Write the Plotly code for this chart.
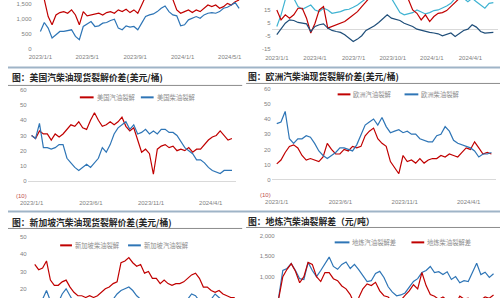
import pandas as pd
import plotly.graph_objects as go

# ---------------- data ----------------
dates = pd.date_range("2023-01-01", periods=52, freq="10D")

# top-left panel (cut off): two series, yuan/ton
topleft_red = [1700, 1650, 1077, 800, 1130, 1210, 1243, 1188, 1300, 1130,
               800, 1243, 1100, 1130, 1165, 1188, 1130, 1210, 1243, 1188,
               1300, 1243, 1320, 1210, 1300, 1188, 1465, 1750, 1800, 1750,
               1800, 1780, 1750, 1700, 1650, 1300, 1188, 1243, 1300, 1210,
               1300, 1243, 1355, 1465, 1410, 1465, 1355, 1410, 1520, 1465,
               1576, 1630]
topleft_blue = [577, 877, 688, 355, 466, 577, 577, 610, 633, 411,
                300, 744, 833, 910, 744, 766, 855, 877, 944, 988,
                688, 633, 766, 722, 744, 633, 855, 1077, 1132, 1165,
                1243, 1354, 1432, 1243, 1132, 1100, 766, 800, 966, 1021,
                1077, 1021, 1132, 1188, 1210, 1188, 1243, 1354, 1388, 1465,
                1543, 1354]

# top-right panel (cut off): three series
topright_cyan = [2.2, 11.2, 23, 25, 24, 17.6, 15.5, 17.1, 18.8, 15,
                 13.7, 16.3, 15, 12.4, 12.9, 13.7, 15, 15.5, 17.1, 18.8,
                 21.4, 24, 26, 27, 27, 26, 26, 24, 18.8, 12.9,
                 11.2, 11.9, 12.9, 15, 13.7, 11.9, 12.9, 14.5, 15, 16.3,
                 18.1, 20.1, 24, 25, 24, 21.4, 24, 21.4, 18.8, 16.3,
                 20.1, 20.6]
topright_red = [15, 7.3, 11.2, 8.6, 11.2, 16.3, 16.3, 8.6, -2.9, 4.7,
                15, 17.6, 0.9, 2.2, 3.5, 4.7, 6.0, 8.6, 11.2, 13.7,
                17.6, 21.4, 25, 27, 28, 28, 27, 27, 26, 26,
                25, 23, 15, 12.4, 7.3, 11.2, 6.0, 9.9, 12.4, 12.9,
                14.5, 17.6, 20.6, 24, 25, 26, 26, 27, 27, 26,
                26, 26]
topright_navy = [-4.2, 0.1, 4.7, 7.3, 6.8, 5.3, 4.7, 4.2, -1.7, 2.2,
                 3.5, 4.2, 0.9, -0.9, -1.7, -2.4, -4.2, -6.8, -9.4, -7.6,
                 -5.0, -0.9, 0.9, 2.7, 5.3, 8.6, 11.2, 8.6, 7.8, 6.8,
                 4.7, 3.5, 2.2, 0.1, -0.9, -1.7, -2.4, -2.9, -3.5, -5.0,
                 -4.2, -2.9, -5.5, -2.9, -0.9, 0.1, 3.5, 1.7, -1.7, -2.9,
                 -2.4, -2.4]

# US gasoline / diesel cracks (USD/bbl)
us_gasoline = [30, 28, 33, 31, 31, 27, 31, 29, 31, 34,
               37, 36, 39, 35, 34, 40, 45, 40, 36, 37,
               39, 37, 39, 42, 36, 33, 35, 27, 19, 21,
               18, 4.5, 21, 23, 24, 22, 23, 20, 21, 20,
               22, 19, 21, 21, 24, 27, 29, 30, 33, 30,
               27, 28]
us_diesel = [30, 28, 38, 22, 22, 21, 22, 24, 24, 15,
             12, 9, 7, 9, 11, 9, 12, 15, 22, 19,
             24, 31, 35, 37, 39, 34, 37, 31, 32, 34,
             31, 33, 31, 34, 34, 32, 32, 30, 26, 22,
             20, 18, 14, 14, 12, 9, 7, 6, 5, 7,
             7, 7]

# Europe gasoline / diesel cracks (USD/bbl)
eu_gasoline = [10.5, 13, 18, 22, 23, 21, 16, 13, 14, 13,
               12, 15, 24, 20, 17, 17, 20, 19, 22, 21,
               22, 29, 32, 34, 27, 24, 22, 12, 8, 4,
               16, 12, 13, 11, 14, 11, 13, 14, 14, 16,
               15, 17, 16, 15, 18, 21, 20, 25, 21, 17,
               18, 17]
eu_diesel = [37, 38, 45, 27, 24, 27, 27, 29, 28, 24,
             19, 16, 14, 16, 18, 21, 21, 20, 19, 23,
             29, 36, 38, 40, 36, 41, 35, 31, 32, 33,
             31, 32, 30, 30, 27, 26, 25, 25, 29, 30,
             35, 32, 26, 24, 23, 22, 21, 19, 15, 17,
             17, 18]

# Singapore diesel / gasoline cracks (USD/bbl)
sg_diesel = [34, 31, 32, 36, 25, 22, 22, 24, 25, 21,
             18, 16, 16, 15, 16, 15, 16, 18, 20, 21,
             23, 24, 35, 36, 38, 35, 33, 34, 29, 30,
             26, 26, 23, 25, 23, 22, 23, 23, 24, 26,
             28, 29, 26, 21, 21, 19, 18, 19, 17, 16,
             15, 15]
sg_gasoline = [12, 13, 14, 19, 13, 11, 12, 17, 20, 16,
               12, 10, 11, 10, 12, 11, 10, 12, 11, 12,
               14, 17, 19, 20, 21, 19, 16, 14, 12, 11,
               10, 11, 12, 11, 10, 12, 11, 13, 12, 14,
               17, 16, 13, 12, 11, 14, 17, 15, 13, 12,
               11, 12]

# Local refinery gasoline / diesel cracks (CNY/t)
local_gasoline = [480, 1150, 1200, 1320, 1150, 950, 930, 1350, 1150, 1000,
                  1150, 1300, 1480, 1250, 1180, 1300, 1360, 1200, 1300, 1170,
                  1020, 880, 900, 1080, 1130, 980, 750, 620, 530, 550,
                  600, 750, 880, 950, 1100, 1150, 1250, 1100, 1120, 1050,
                  1120, 930, 1000, 850, 900, 880, 1100, 1330, 1050, 1110,
                  980, 1070]
local_diesel = [450, 1000, 1180, 1320, 1130, 850, 1000, 1350, 1300, 1000,
                880, 1100, 1100, 950, 900, 770, 700, 560, 330, 480,
                700, 820, 780, 860, 650, 530, 500, 380, 350, 420,
                540, 650, 800, 700, 1100, 780, 560, 520, 440, 500,
                420, 380, 330, 520, 450, 470, 390, 400, 430, 500,
                470, 550]

ticks_m4 = ["2023-01-01", "2023-05-01", "2023-09-01", "2024-01-01", "2024-05-01"]
ticks_m3 = ["2023-01-01", "2023-04-01", "2023-07-01", "2023-10-01", "2024-01-01", "2024-04-01"]
ticks_m5 = ["2023-01-01", "2023-06-01", "2023-11-01", "2024-04-01"]
labels_m4 = ["2023/1/1", "2023/5/1", "2023/9/1", "2024/1/1", "2024/5/1"]
labels_m3 = ["2023/1/1", "2023/4/1", "2023/7/1", "2023/10/1", "2024/1/1", "2024/4/1"]
labels_m5 = ["2023/1/1", "2023/6/1", "2023/11/1", "2024/4/1"]

titles = ["图：美国汽柴油现货裂解价差(美元/桶)", "图：欧洲汽柴油现货裂解价差(美元/桶)",
          "图：新加坡汽柴油现货裂解价差(美元/桶)", "图：地炼汽柴油裂解差（元/吨）"]

# ---------------- style ----------------
W, H = 500, 300
RED = "#c00000"
BLUE = "#2e75b6"
CYAN = "#3fb3d2"
NAVY = "#1f4e79"
TICKF = dict(family="Liberation Sans, Arial, sans-serif", size=6, color="#7f7f7f")
CJK = "Noto Sans CJK SC"


def fx(px):
    return px / W


def fy(py):
    return 1 - py / H


fig = go.Figure()


def add(x_ax, y_ax, vals, color):
    fig.add_trace(go.Scatter(x=dates, y=vals, mode="lines", xaxis=x_ax, yaxis=y_ax,
                             line=dict(color=color, width=1.2), showlegend=False,
                             hoverinfo="skip"))


add("x", "y", topleft_red, RED)
add("x", "y", topleft_blue, BLUE)
add("x2", "y2", topright_cyan, CYAN)
add("x2", "y2", topright_red, RED)
add("x2", "y2", topright_navy, NAVY)
add("x3", "y3", us_gasoline, RED)
add("x3", "y3", us_diesel, BLUE)
add("x4", "y4", eu_gasoline, RED)
add("x4", "y4", eu_diesel, BLUE)
add("x5", "y5", sg_diesel, RED)
add("x5", "y5", sg_gasoline, BLUE)
add("x6", "y6", local_gasoline, BLUE)
add("x6", "y6", local_diesel, RED)


def xax(dom, rng, tv, tt, anchor, show=True):
    return dict(domain=[fx(dom[0]), fx(dom[1])], range=rng, type="date", anchor=anchor,
                tickvals=tv, ticktext=tt, showticklabels=show, showgrid=False,
                showline=False, zeroline=False, ticks="", tickfont=TICKF, fixedrange=True)


def yax(dom, rng, tv, tt, anchor, zero=False):
    return dict(domain=[fy(dom[1]), fy(dom[0])], range=rng, anchor=anchor,
                tickvals=tv, ticktext=tt, showgrid=False, showline=False,
                zeroline=zero, zerolinecolor="#d9d9d9", zerolinewidth=1,
                ticks="", tickfont=TICKF, fixedrange=True)


neg10 = '<span style="color:#c0504d">(10)</span>'
layout = dict(
    width=W, height=H, margin=dict(l=0, r=0, t=0, b=0),
    paper_bgcolor="white", plot_bgcolor="white", showlegend=False,
    xaxis=xax((25, 240), ["2022-12-12", "2024-06-07"], ticks_m4, labels_m4, "y"),
    yaxis=yax((0, 52), [-100, 1632], [0, 500, 1000, 1500], ["0", "500", "1,000", "1,500"], "x"),
    xaxis2=xax((268, 498), ["2022-12-20", "2024-06-05"], ticks_m3, labels_m3, "y2"),
    yaxis2=yax((0, 53), [-18.1, 22.7], [-15, -5, 5, 15], ["-15", "-5", "5", "15"], "x2", zero=True),
    xaxis3=xax((20, 232), ["2022-12-22", "2024-06-05"], ticks_m5, labels_m5, "y3"),
    yaxis3=yax((88, 199), [-10.9, 61.6], [-10, 0, 10, 20, 30, 40, 50, 60],
               [neg10, "0", "10", "20", "30", "40", "50", "60"], "x3", zero=True),
    xaxis4=xax((268, 496), ["2022-12-20", "2024-06-05"], ticks_m5, labels_m5, "y4"),
    yaxis4=yax((86, 198), [-11.1, 62.1], [-10, 0, 10, 20, 30, 40, 50, 60],
               [neg10, "0", "10", "20", "30", "40", "50", "60"], "x4", zero=True),
    xaxis5=xax((20, 232), ["2022-12-14", "2024-05-29"], ticks_m5, labels_m5, "y5", show=False),
    yaxis5=yax((233, 300), [14.7, 53.0], [20, 30, 40, 50], ["20", "30", "40", "50"], "x5"),
    xaxis6=xax((272, 496), ["2022-12-25", "2024-05-31"], ticks_m5, labels_m5, "y6", show=False),
    yaxis6=yax((233, 300), [475, 2110], [500, 1000, 1500, 2000],
               ["500", "1,000", "1,500", "2,000"], "x6"),
)
fig.update_layout(**layout)

shapes = []
annotations = []


def hline(x0, x1, py, color, width):
    shapes.append(dict(type="line", xref="paper", yref="paper", x0=fx(x0), x1=fx(x1),
                       y0=fy(py), y1=fy(py), line=dict(color=color, width=width)))


# separators between chart rows
hline(0, 500, 68, "#9fb4c7", 2)
hline(0, 500, 213, "#9fb4c7", 2)
# title underlines
hline(0, 238, 86, "#8c8c8c", 1)
hline(242, 500, 84, "#8c8c8c", 1)
hline(0, 238, 230, "#8c8c8c", 1)
hline(242, 500, 229, "#8c8c8c", 1)

# titles
for txt, px, py in [(titles[0], 2, 78), (titles[1], 242, 77),
                    (titles[2], 2, 224), (titles[3], 242, 223)]:
    annotations.append(dict(text="<b>" + txt + "</b>", x=fx(px), y=fy(py), xref="paper",
                            yref="paper", xanchor="left", yanchor="middle", showarrow=False,
                            font=dict(family=CJK, size=8.8, color="#262626")))

# legends (sample line + label)
legend_items = [
    (73, 87, 98, RED, "美国汽油裂解"), (135, 148, 98, BLUE, "美国柴油裂解"),
    (335, 348, 95, RED, "欧洲汽油裂解"), (403, 417, 95, BLUE, "欧洲柴油裂解"),
    (53, 65, 247, RED, "新加坡柴油裂解"), (122, 135, 247, BLUE, "新加坡汽油裂解"),
    (332, 347, 244, BLUE, "地炼汽油裂解差"), (410, 423, 244, RED, "地炼柴油裂解差"),
]
for x0, x1, py, col, txt in legend_items:
    hline(x0, x1, py, col, 2)
    annotations.append(dict(text=txt, x=fx(x1 + 1), y=fy(py), xref="paper", yref="paper",
                            xanchor="left", yanchor="middle", showarrow=False,
                            font=dict(family=CJK, size=6.3, color="#8c8c8c")))

fig.update_layout(shapes=shapes, annotations=annotations)
fig.write_html("out.html")
